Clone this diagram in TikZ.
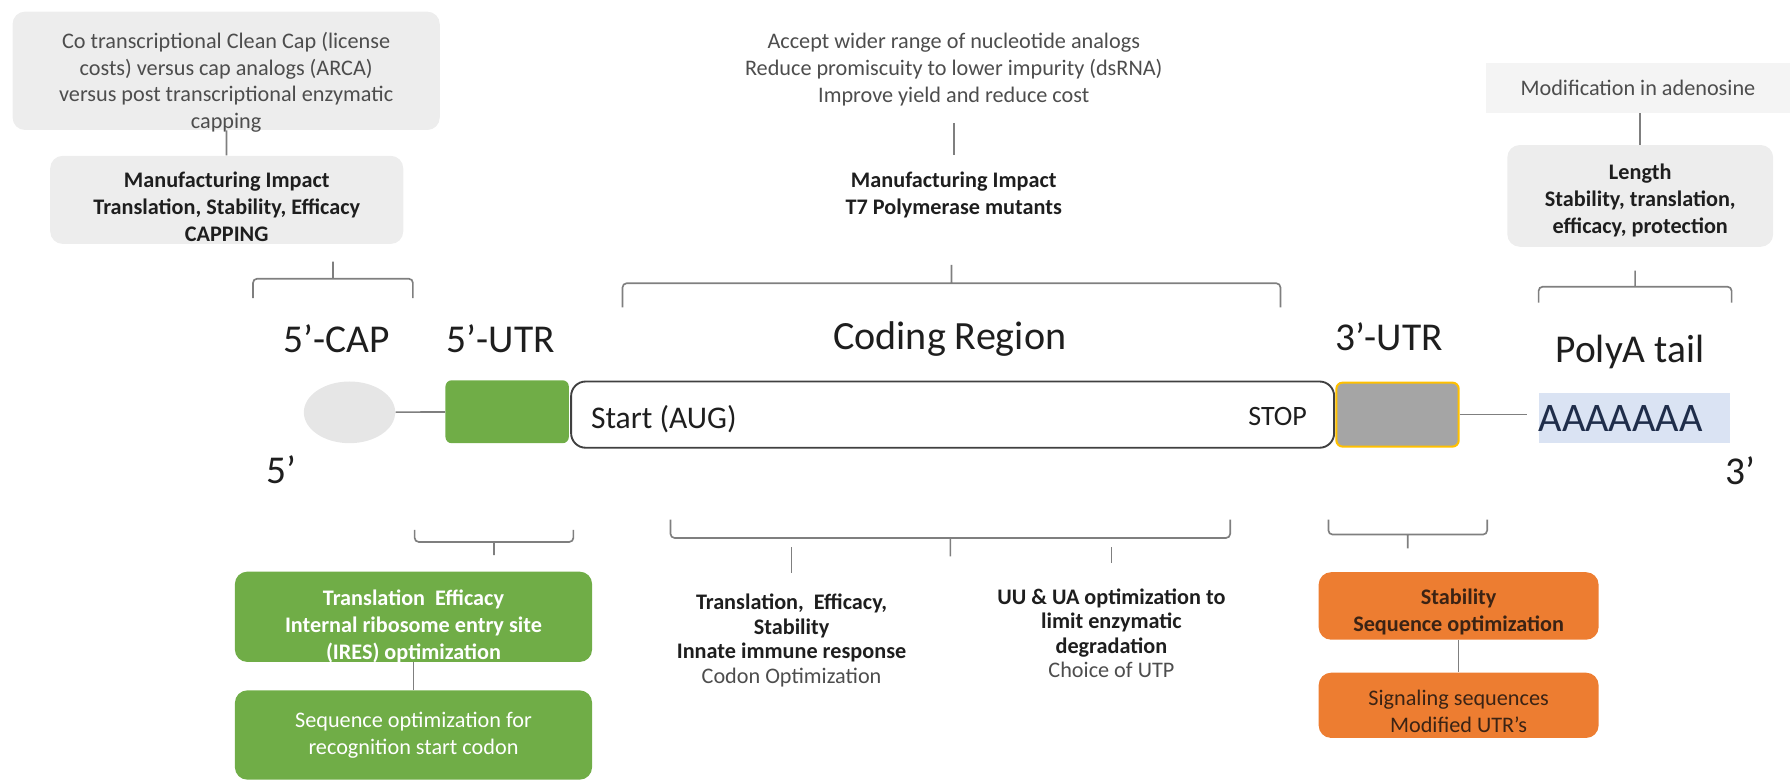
\documentclass[tikz,border=0pt]{standalone}
\usepackage{fontspec}
\setmainfont{Carlito}
\usepackage{tikz}
\usetikzlibrary{shapes.geometric}
\definecolor{boxgrey}{HTML}{EDEDED}
\definecolor{capgrey}{HTML}{E6E6E6}
\definecolor{linegrey}{HTML}{7F7F7F}
\definecolor{txtgrey}{HTML}{4D4D4D}
\definecolor{txtdark}{HTML}{1E1E1E}
\definecolor{utrgreen}{HTML}{70AD47}
\definecolor{utrorange}{HTML}{ED7D31}
\definecolor{orangetxt}{HTML}{3B2314}
\definecolor{tailblue}{HTML}{DAE3F3}
\definecolor{tailtxt}{HTML}{1F2D4A}
\definecolor{stopgrey}{HTML}{A5A5A5}
\definecolor{stopgold}{HTML}{FFC000}
\definecolor{rectline}{HTML}{404040}

\begin{document}
\begin{tikzpicture}[x=0.55pt,y=-0.55pt,
  note/.style={font=\fontsize{10.7}{12.9}\selectfont,text=txtgrey,align=center},
  impact/.style={font=\fontsize{10.7}{12.9}\selectfont\bfseries,text=txtdark,align=center},
  greybox/.style={fill=boxgrey,rounded corners=6pt,inner sep=0pt},
  greenbox/.style={fill=utrgreen,rounded corners=6pt,inner sep=0pt,minimum width=172pt},
  orangebox/.style={fill=utrorange,rounded corners=6pt,inner sep=0pt,minimum width=134.8pt},
  region/.style={font=\fontsize{19}{23}\selectfont,text=txtdark,anchor=base},
  conn/.style={draw=linegrey,line width=0.8pt},
  bracket/.style={draw=linegrey,line width=0.8pt,rounded corners=2pt}]
\useasboundingbox (0,0) rectangle (1568,685);

\node[greybox,minimum width=205.7pt,minimum height=57pt] (capnote) at (198,62) {};
\node[note] (capnotetxt) at ([yshift=-5.5pt]capnote.center) {Co transcriptional Clean Cap (license\\costs) versus cap analogs (ARCA)\\versus post transcriptional enzymatic\\capping};
\node[greybox,minimum width=170pt,minimum height=42.4pt] (capbox) at (198.5,175) {};
\node[impact] (capboxtxt) at ([yshift=-3.3pt]capbox.center) {Manufacturing Impact\\Translation, Stability, Efficacy\\CAPPING};
\draw[conn] (capnote) -- (capbox);

\node[note,inner ysep=8pt] (t7note) at (835,61) {Accept wider range of nucleotide analogs\\Reduce promiscuity to lower impurity (dsRNA)\\Improve yield and reduce cost};
\node[impact,inner ysep=8pt] (t7box) at (835,171) {Manufacturing Impact\\T7 Polymerase mutants};
\draw[conn] (t7note) -- (t7box);

\node[note,fill=boxgrey!60,minimum width=146pt,minimum height=24.2pt] (adenote) at (1434,77) {Modification in adenosine};
\node[greybox,minimum width=128pt,minimum height=49pt] (lengthbox) at (1436,171.5) {};
\node[impact] (lengthboxtxt) at ([yshift=-2.3pt]lengthbox.center) {Length\\Stability, translation,\\efficacy, protection};
\draw[conn] (adenote.south -| lengthbox.north) -- (lengthbox);

\foreach \bl/\br/\bend/\bbar/\btip in {221.5/361.5/261/244/229, 545/1121/269/248/232, 1347/1516/265/251/237,
  363/502/464/474.5/486, 587/1077/455/471/487, 1163/1302/455/468/480}
  \draw[bracket] (\bl,\bend) |- ({(\bl+\br)/2},\bbar) -| (\br,\bend) ({(\bl+\br)/2},\bbar) -- ({(\bl+\br)/2},\btip);

\node[region] (capname) at (295,309) {5’-CAP};
\node[region] (utr5name) at (438.5,309) {5’-UTR};
\node[region,font=\fontsize{19.3}{23}\selectfont] (codingname) at (831.5,306) {Coding Region};
\node[region] (utr3name) at (1216,306.5) {3’-UTR};
\node[region] (polyname) at (1427,317) {PolyA tail};

\node[ellipse,fill=capgrey,minimum width=44pt,minimum height=29.7pt] (capdot) at (306,361) {};
\node[fill=utrgreen,rounded corners=3pt,minimum width=59.4pt,minimum height=30.3pt] (utr5) at (444,360.5) {};
\node[draw=rectline,line width=0.9pt,rounded corners=7pt,minimum width=367.4pt,minimum height=31.9pt] (coding) at (834,363) {};
\node[fill=stopgrey,draw=stopgold,line width=1pt,rounded corners=3pt,minimum width=58.9pt,minimum height=30.8pt] (utr3) at (1223.5,363) {};
\node[fill=tailblue,text=tailtxt,font=\fontsize{19.5}{22}\selectfont,inner xsep=0pt,text width=92.4pt,align=left,minimum height=24.2pt] (tail) at (1431,366) {AAAAAAA};
\node[anchor=west,font=\fontsize{15.2}{18}\selectfont,text=txtdark] (startcodon) at ([xshift=6.5pt,yshift=-2pt]coding.west) {Start (AUG)};
\node[anchor=east,font=\fontsize{13.5}{16}\selectfont,text=txtdark] (stopcodon) at ([xshift=-10pt,yshift=-1pt]coding.east) {STOP};
\draw[conn] (capdot) -- (utr5);
\draw[conn,shorten >=5.5pt] (utr3.east) -- (utr3.east -| tail.west);

\node[font=\fontsize{19}{22}\selectfont,text=txtdark] (fiveend) at (246,411) {5’};
\node[font=\fontsize{19}{22}\selectfont,text=txtdark] (threeend) at (1524,412) {3’};

\node[greenbox,minimum height=43.5pt] (iresbox) at (362,540) {};
\node[impact,text=white] (iresboxtxt) at ([yshift=-4.7pt]iresbox.center) {Translation\ \ Efficacy\\Internal ribosome entry site\\(IRES) optimization};
\node[greenbox,note,text=white,minimum height=43pt] (startbox) at (362,643.5) {Sequence optimization for\\recognition start codon};
\draw[conn] (iresbox) -- (startbox);

\coordinate (codontick) at (693,479);
\coordinate (uutick) at (973,479);
\node[impact,anchor=north,inner ysep=9.8pt,font=\fontsize{10.7}{11.8}\selectfont\bfseries] (codon) at (693,502) {Translation,\ \ Efficacy,\\Stability\\Innate immune response\\{\mdseries\color{txtgrey}Codon Optimization}};
\node[impact,anchor=north,inner ysep=12pt,font=\fontsize{10.7}{11.8}\selectfont\bfseries] (uutext) at (973,493) {UU \& UA optimization to\\limit enzymatic\\degradation\\{\mdseries\color{txtgrey}Choice of UTP}};
\draw[conn] (codontick) -- (codon);
\draw[conn] (uutick) -- (uutext);

\node[orangebox,minimum height=32.5pt] (stabbox) at (1277,530.5) {};
\node[impact,text=orangetxt] (stabboxtxt) at ([yshift=-3pt]stabbox.center) {Stability\\Sequence optimization};
\node[orangebox,minimum height=31.4pt] (signalbox) at (1277,617.5) {};
\node[note,text=orangetxt] (signalboxtxt) at ([yshift=-3pt]signalbox.center) {Signaling sequences\\Modified UTR’s};
\draw[conn] (stabbox) -- (signalbox);
\end{tikzpicture}
\end{document}
